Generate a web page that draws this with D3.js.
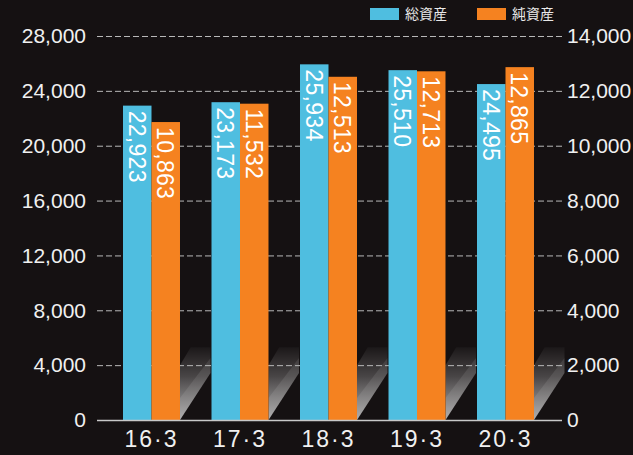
<!DOCTYPE html>
<html><head><meta charset="utf-8">
<script src="https://cdn.jsdelivr.net/npm/d3@7"></script>
<style>
html,body{margin:0;padding:0;background:#151112;}
svg{display:block;}
</style></head>
<body>
<script>
const categories = ["16·3","17·3","18·3","19·3","20·3"];
const totalAssets = [22923, 23173, 25934, 25510, 24495];
const netAssets = [10863, 11532, 12513, 12713, 12865];
const leftTicks = [0,4000,8000,12000,16000,20000,24000,28000];
const rightTicks = [0,2000,4000,6000,8000,10000,12000,14000];
const seriesNames = ["総資産","純資産"];
const colors = ["#4fbee0","#f58220"];

const W=633,H=455;
const svg=d3.select("body").append("svg").attr("width",W).attr("height",H);
svg.append("rect").attr("width",W).attr("height",H).attr("fill","#151112");

const plotL=97, plotR=562, plotTop=36, base=420;
const yL=d3.scaleLinear().domain([0,28000]).range([base,plotTop]);
const yR=d3.scaleLinear().domain([0,14000]).range([base,plotTop]);
const x=d3.scaleBand().domain(categories).range([123,565.5]).padding(0);
const bw=x.step()*0.322;

const defs=svg.append("defs");
const shTop=yL(5300);
const g1=defs.append("linearGradient").attr("id","sh").attr("gradientUnits","userSpaceOnUse")
  .attr("x1",0).attr("y1",shTop).attr("x2",0).attr("y2",base);
g1.append("stop").attr("offset","0").attr("stop-color","#ffffff").attr("stop-opacity",0.03);
g1.append("stop").attr("offset","0.4").attr("stop-color","#ffffff").attr("stop-opacity",0.22);
g1.append("stop").attr("offset","1").attr("stop-color","#e0e0e0").attr("stop-opacity",0.72);

// shadows
categories.forEach((c)=>{
  const x0=x(c)+2*bw, x1=x(c)+x.step()-1;
  const dy=47;
  svg.append("polygon")
    .attr("points",[[x0,base],[x1,base-dy],[x1,shTop],[x0+(x1-x0)*0.35,shTop],[x0,shTop+18]].map(p=>p.join(",")).join(" "))
    .attr("fill","url(#sh)");
  svg.append("polygon")
    .attr("points",[[x0,base],[x1,base-dy],[x1,base-dy-15],[x0,base-22]].map(p=>p.join(",")).join(" "))
    .attr("fill","#ffffff").attr("opacity",0.09);
});

// gridlines
svg.append("g").selectAll("line").data(leftTicks.slice(1)).join("line")
  .attr("x1",plotL).attr("x2",plotR).attr("y1",d=>yL(d)+0.5).attr("y2",d=>yL(d)+0.5)
  .attr("stroke","#b8b8b8").attr("stroke-width",1).attr("stroke-dasharray","6,3");

// bars
const bars=svg.append("g");
bars.selectAll(".b1").data(categories).join("rect").attr("class","b1")
  .attr("x",d=>x(d)).attr("width",bw)
  .attr("y",(d,i)=>yL(totalAssets[i])).attr("height",(d,i)=>base-yL(totalAssets[i]))
  .attr("fill",colors[0]);
bars.selectAll(".b2").data(categories).join("rect").attr("class","b2")
  .attr("x",d=>x(d)+bw).attr("width",bw)
  .attr("y",(d,i)=>yR(netAssets[i])).attr("height",(d,i)=>base-yR(netAssets[i]))
  .attr("fill",colors[1]);

// baseline
svg.append("line").attr("x1",plotL).attr("x2",plotR).attr("y1",base+0.5).attr("y2",base+0.5)
  .attr("stroke","#c8c8c8").attr("stroke-width",1.5);

const fmt=d3.format(",");
const font="'Liberation Sans', Arial, sans-serif";
// bar labels
function lab(vals,scale,off){
  svg.append("g").selectAll("text").data(categories).join("text")
    .attr("transform",(d,i)=>`translate(${x(d)+off+bw/2},${scale(vals[i])+5}) rotate(90)`)
    .attr("dy","0.36em").attr("text-anchor","start")
    .attr("font-family",font).attr("font-size",23).attr("letter-spacing","0.3px")
    .attr("fill","#ffffff").text((d,i)=>fmt(vals[i]));
}
lab(totalAssets,yL,0);
lab(netAssets,yR,bw);

// axes
const axL=d3.axisLeft(yL).tickValues(leftTicks).tickFormat(fmt).tickSize(0).tickPadding(0);
const gL=svg.append("g").attr("transform","translate(86,0)").call(axL);
gL.select(".domain").remove();
gL.selectAll("text").attr("font-family",font).attr("font-size",21).attr("fill","#f0f0f0");

const axR=d3.axisRight(yR).tickValues(rightTicks).tickFormat(fmt).tickSize(0).tickPadding(0);
const gR=svg.append("g").attr("transform","translate(567,0)").call(axR);
gR.select(".domain").remove();
gR.selectAll("text").attr("font-family",font).attr("font-size",21).attr("fill","#f0f0f0");

const axX=d3.axisBottom(x).tickSize(0).tickPadding(0);
const gX=svg.append("g").attr("transform",`translate(${-x.step()/2+bw},${base+11})`).call(axX);
gX.select(".domain").remove();
gX.selectAll("text").attr("font-family",font).attr("font-size",23).attr("fill","#f0f0f0").attr("letter-spacing","2px");

// legend
const lg=svg.append("g");
const lx=[370,477];
seriesNames.forEach((n,i)=>{
  lg.append("rect").attr("x",lx[i]).attr("y",8).attr("width",29).attr("height",12).attr("fill",colors[i]);
  lg.append("text").attr("x",lx[i]+35).attr("y",14).attr("dy","0.36em")
    .attr("font-family","'Noto Sans CJK JP', sans-serif").attr("font-size",14).attr("fill","#e8e8e8").text(n);
});
</script>
</body></html>
